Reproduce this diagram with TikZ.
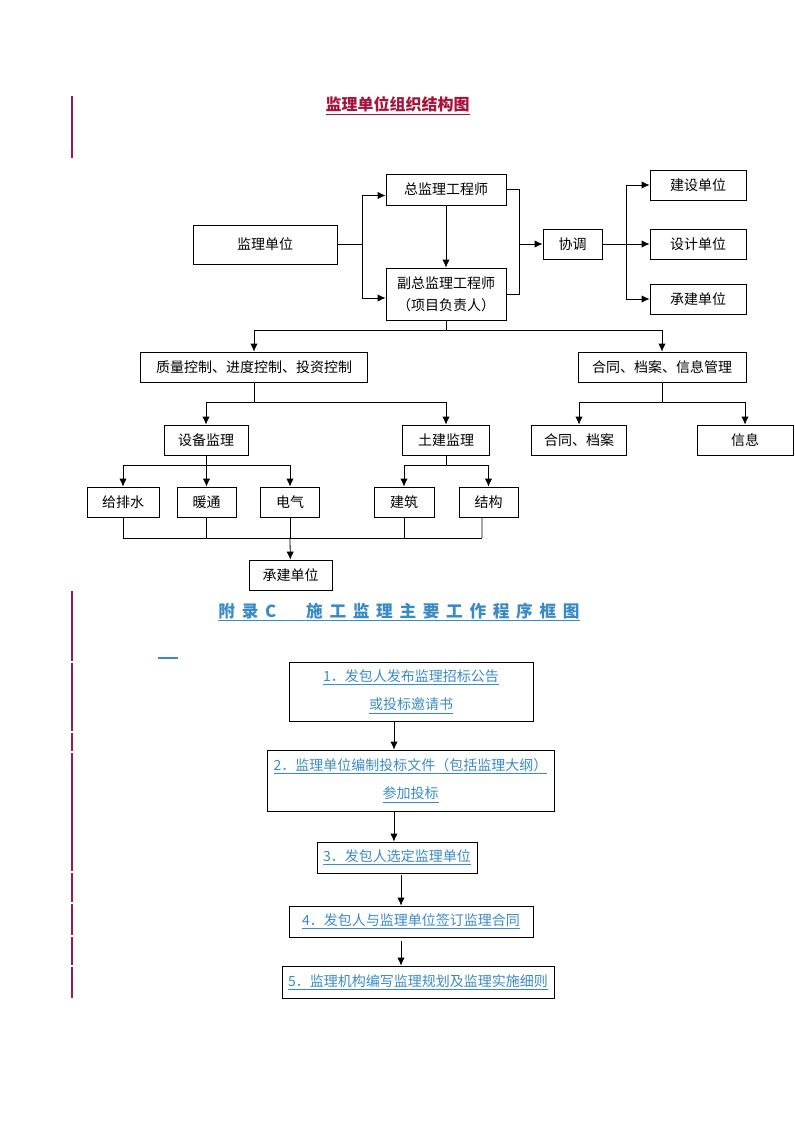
\documentclass[tikz,border=0pt]{standalone}
\usepackage{fontspec}
\setmainfont{Noto Sans CJK SC}
\newfontfamily\appendixfont[LetterSpace=40]{Noto Sans CJK SC}
\usetikzlibrary{arrows.meta}

\definecolor{marginred}{RGB}{150,30,65}
\definecolor{titlered}{RGB}{165,20,60}
\definecolor{flowblue}{RGB}{58,138,198}

\tikzset{%
          every block/.style={
            draw,
            line width=0.6pt,
            inner sep=0pt,
            align=center,
            font=\fontsize{10.5pt}{16.5pt}\selectfont
          },
          block size/.style 2 args={
            minimum width=#1*0.75pt,
            minimum height=#2*0.75pt
          },
          flow step/.style={
            every block,
            text=flowblue,
            font=\fontsize{10.5pt}{21.5pt}\selectfont
          },
          link/.style={draw, line width=0.6pt},
          link arrow/.style={link, -{Latex[length=6pt,width=5.5pt]}},
          margin line/.style={draw=marginred, line width=0.8pt},
        }

\begin{document}
\begin{tikzpicture}[x=0.75pt, y=-0.75pt]
        \useasboundingbox (0,0) rectangle (794,1123);

        % left margin marks
        \path [margin line] (72,96) -- (72,158);
        \foreach \a/\b in {591/661, 663/731, 733/751, 753/871, 873/902, 904/935, 937/965, 967/998}
          \path [margin line] (72,\a) -- (72,\b);

        % organisation chart
        \node [font=\fontsize{12pt}{14pt}\selectfont\bfseries, text=titlered] (org-title) at (397.5,106) {\underline{监理单位组织结构图}};

        \node [every block, block size={144}{39}] (unit) at (265,244.5) {监理单位};
        \node [every block, block size={120}{31}] (chief) at (446,189.5) {总监理工程师};
        \node [every block, block size={120}{52}] (deputy) at (446,294) {副总监理工程师\\（项目负责人）};
        \node [every block, block size={59}{30}] (coord) at (572.5,244) {协调};
        \node [every block, block size={96}{30}] (owner) at (698,185) {建设单位};
        \node [every block, block size={96}{30}] (design) at (698,244) {设计单位};
        \node [every block, block size={96}{30}] (contractor) at (698,299) {承建单位};

        \node [every block, block size={227}{30}] (quality) at (254,367) {质量控制、进度控制、投资控制};
        \node [every block, block size={168}{30}] (archive) at (662,367) {合同、档案、信息管理};

        \node [every block, block size={84}{30}] (equip) at (206,440) {设备监理};
        \node [every block, block size={87}{30}] (civil) at (446,440) {土建监理};
        \node [every block, block size={95}{30}] (contract) at (579,440) {合同、档案};
        \node [every block, block size={96}{30}] (info) at (745,440) {信息};

        \node [every block, block size={72}{30}] (water) at (123,502) {给排水};
        \node [every block, block size={59}{30}] (hvac) at (206.5,502) {暖通};
        \node [every block, block size={59}{30}] (elec) at (290,502) {电气};
        \node [every block, block size={60}{30}] (arch) at (404,502) {建筑};
        \node [every block, block size={59}{30}] (struct) at (488.5,502) {结构};

        \node [every block, block size={83}{30}] (builder) at (290.5,575) {承建单位};

        \coordinate (split-a) at (362,244.5);
        \coordinate (join-b) at (519,244);
        \coordinate (split-c) at (626,244);
        \coordinate (bus-d) at (446,330);
        \coordinate (bus-e) at (254,402);
        \coordinate (bus-f) at (662,402);
        \coordinate (bus-g) at (206,465);
        \coordinate (bus-h) at (446,465);
        \coordinate (join-l) at (123,538);
        \coordinate (join-r) at (482,538);

        \path [link] (unit) -- (split-a);
        \path [link arrow] (split-a) |- ([yshift=-4.5pt]chief.west);
        \path [link arrow] (split-a) |- ([yshift=-3pt]deputy.west);
        \path [link arrow] (chief) -- (deputy);

        \path [link] (chief.east) -| (join-b);
        \path [link] (deputy.east) -| (join-b);
        \path [link arrow] (join-b) -- (coord);

        \path [link] (coord) -- (split-c);
        \path [link arrow] (split-c) |- (owner);
        \path [link arrow] (split-c) -- (design);
        \path [link arrow] (split-c) |- (contractor);

        \path [link] (deputy) -- (bus-d);
        \path [link arrow] (bus-d) -| (quality);
        \path [link arrow] (bus-d) -| (archive);

        \path [link] (quality) -- (bus-e);
        \path [link arrow] (bus-e) -| (equip);
        \path [link arrow] (bus-e) -| (civil);

        \path [link] (archive) -- (bus-f);
        \path [link arrow] (bus-f) -| (contract);
        \path [link arrow] (bus-f) -| (info);

        \path [link] (equip) -- (bus-g);
        \path [link arrow] (bus-g) -| (water);
        \path [link arrow] (bus-g) -| (hvac);
        \path [link arrow] (bus-g) -| (elec);

        \path [link] (civil) -- (bus-h);
        \path [link arrow] (bus-h) -| (arch);
        \path [link arrow] (bus-h) -| (struct);

        \path [link] (water.south) -- (water.south |- join-l);
        \path [link] (hvac.south) -- (hvac.south |- join-l);
        \path [link] (elec.south) -- (elec.south |- join-l);
        \path [link] (arch.south) -- (arch.south |- join-l);
        \path [link] ([xshift=-4.9pt]struct.south) -- (join-r);
        \path [link] (join-l) -- (join-r);
        \path [link arrow] (elec.south |- join-l) -- (builder);

        % work procedure
        \node [font=\appendixfont\bfseries\fontsize{12.5pt}{15pt}\selectfont, text=flowblue] (apx-title) at (399,612) {\underline{附录C　施工监理主要工作程序框图}};
        \path [draw=flowblue, line width=0.8pt] (158,658) -- (178,658);

        \node [flow step, block size={244}{59}] (step1) at (411,691.5) {\underline{1．发包人发布监理招标公告}\\\underline{或投标邀请书}};
        \node [flow step, block size={287}{61}] (step2) at (410.5,780.5) {\underline{2．监理单位编制投标文件（包括监理大纲）}\\\underline{参加投标}};
        \node [flow step, block size={160}{31}] (step3) at (397,857.5) {\underline{3．发包人选定监理单位}};
        \node [flow step, block size={244}{31}] (step4) at (411,921.5) {\underline{4．发包人与监理单位签订监理合同}};
        \node [flow step, block size={272}{32}] (step5) at (418,982) {\underline{5．监理机构编写监理规划及监理实施细则}};

        \path [link arrow] ([xshift=-12.75pt]step1.south) -- ([xshift=-12.75pt]step1.south |- step2.north);
        \path [link arrow] ([xshift=-12.4pt]step2.south) -- ([xshift=-12.4pt]step2.south |- step3.north);
        \path [link arrow] ([xshift=3pt, yshift=-1.5pt]step3.south) -- ([xshift=3pt]step3.south |- step4.north);
        \path [link arrow] ([xshift=-7.5pt, yshift=-3pt]step4.south) -- ([xshift=-7.5pt]step4.south |- step5.north);

\end{tikzpicture}
\end{document}
